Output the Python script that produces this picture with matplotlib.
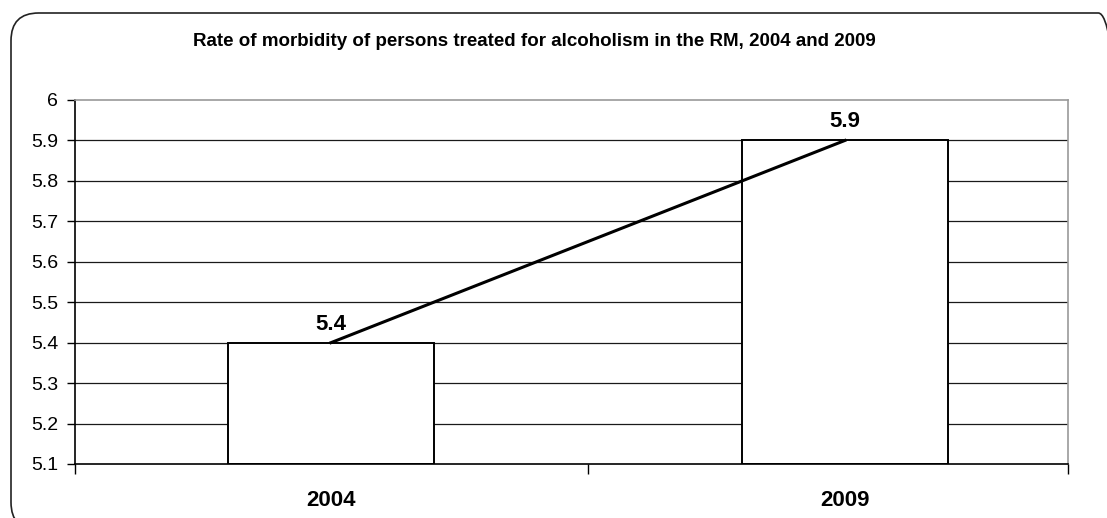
import matplotlib
matplotlib.use("Agg")
import matplotlib.pyplot as plt
from matplotlib.patches import FancyBboxPatch
import numpy as np

# data
years = ["2004", "2009"]
rates = [5.4, 5.9]
y_ticks = [5.1, 5.2, 5.3, 5.4, 5.5, 5.6, 5.7, 5.8, 5.9, 6.0]
title = "Rate of morbidity of persons treated for alcoholism in the RM, 2004 and 2009"

plt.rcParams['font.family'] = ['Liberation Sans', 'DejaVu Sans']

W, H = 1107, 518
fig = plt.figure(figsize=(W / 100, H / 100), dpi=100)

# rounded frame around the whole chart (runs off right/bottom edges)
frame = FancyBboxPatch((11 / W, -12 / H), (1126 - 11) / W, (505 + 12) / H,
                       boxstyle="round,pad=0,rounding_size=0.025",
                       transform=fig.transFigure, facecolor='none',
                       edgecolor='#222222', linewidth=1.2,
                       mutation_aspect=W / H, zorder=-1)
fig.patches.append(frame)

ax = fig.add_axes([75 / W, (H - 464) / H, (1068 - 75) / W, (464 - 100) / H])
ax.set_facecolor('none')

ymin, ymax = 5.1, 6.0
x = np.arange(len(years))
xlo, xhi = -0.498, 1.434
ax.set_xlim(xlo, xhi)
ax.set_ylim(ymin, ymax)

# gridlines
for yv in y_ticks[1:-1]:
    ax.axhline(yv, color='#1a1a1a', linewidth=0.9, zorder=1)

ax.bar(x, np.array(rates) - ymin, bottom=ymin, width=0.40,
       facecolor='white', edgecolor='black', linewidth=1.4, zorder=2)
ax.plot(x, rates, color='black', linewidth=2.2, zorder=3, clip_on=False)

for xi, r in zip(x, rates):
    ax.text(xi, r + 0.02, f"{r:.1f}", ha='center', va='bottom',
            fontsize=16, fontweight='bold')

for xi, lab in zip(x, years):
    ax.text(xi, -0.10, lab, transform=ax.get_xaxis_transform(),
            ha='center', va='center', fontsize=16, fontweight='bold')

ax.set_yticks(y_ticks)
ax.set_yticklabels([f"{v:g}" for v in y_ticks], fontsize=14)
ax.tick_params(axis='y', direction='out', length=6, width=1, pad=6, colors='black')
ax.set_xticks([xlo, 0.5, xhi])
ax.set_xticklabels([])
ax.tick_params(axis='x', direction='out', length=7, width=1, colors='black')

ax.spines['left'].set_color('black')
ax.spines['bottom'].set_color('black')
ax.spines['top'].set_color('#9a9a9a')
ax.spines['right'].set_color('#9a9a9a')
for s in ax.spines.values():
    s.set_linewidth(1.2)

fig.text(534 / W, (H - 41) / H, title, ha='center', va='center',
         fontsize=13.5, fontweight='bold')

fig.savefig("out.png", dpi=100)
